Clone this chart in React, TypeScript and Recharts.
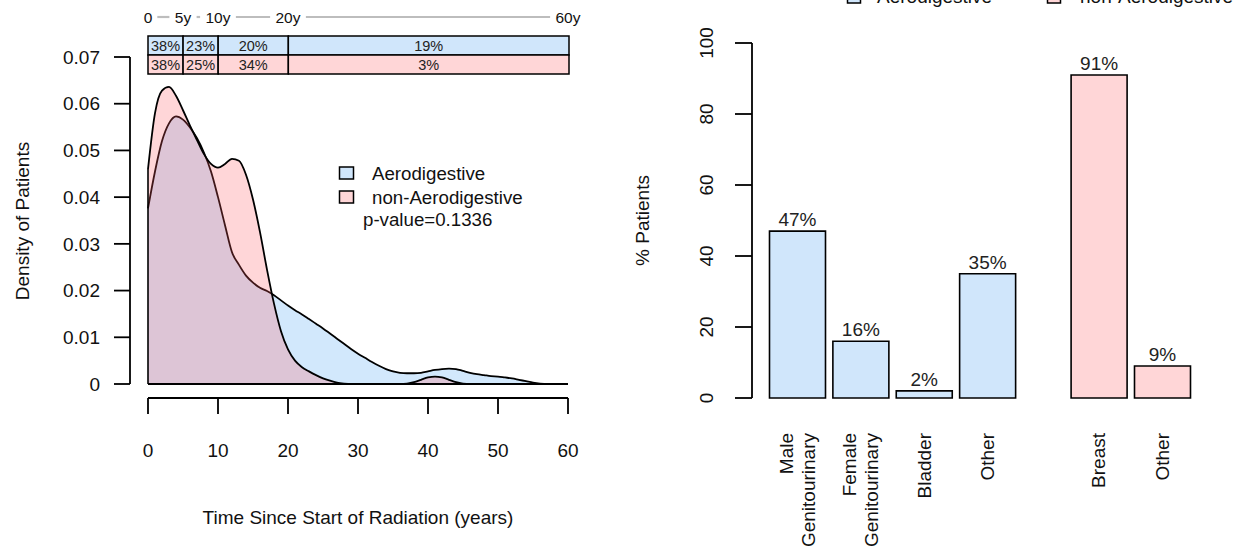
import React from 'react';
import {
  ComposedChart,
  Area,
  XAxis,
  YAxis,
  BarChart,
  Bar,
  Cell,
  LabelList,
  Legend,
  Scatter,
  ReferenceLine,
} from 'recharts';

const FONT = '"Liberation Sans", Arial, Helvetica, sans-serif';
const BLUE_SOLID = '#d0e6fb';
const PINK_SOLID = '#ffd6d7';
const BLUE_BASE = '#4ba3f3';
const PINK_BASE = '#ff5b63';
const INK = '#111';

// ---------- density panel ----------
const years = Array.from({ length: 61 }, (_, i) => i);
const aeroDensity = [
  0.0376, 0.0455, 0.052, 0.0558, 0.0573, 0.0566, 0.0549, 0.0526, 0.0495, 0.0455,
  0.04, 0.034, 0.0282, 0.0255, 0.0232, 0.0217, 0.0206, 0.0199, 0.019, 0.0179,
  0.0168, 0.0158, 0.0149, 0.0139, 0.0129, 0.0119, 0.0108, 0.0097, 0.0086, 0.0075,
  0.0065, 0.0056, 0.0047, 0.0039, 0.0032, 0.0027, 0.0024, 0.0023, 0.0023, 0.0024,
  0.0027, 0.003, 0.0032, 0.0033, 0.0032, 0.0028, 0.0024, 0.0021, 0.0019, 0.0017,
  0.0016, 0.0014, 0.0012, 0.0009, 0.0006, 0.0003, 0.0001, 0, 0, 0, 0,
];
const nonAeroDensity = [
  0.046, 0.058, 0.0628, 0.0636, 0.0617, 0.0586, 0.0553, 0.0522, 0.0492, 0.0471,
  0.0463, 0.0471, 0.0482, 0.0478, 0.0448, 0.0395, 0.0325, 0.0245, 0.0172, 0.0113,
  0.0074, 0.005, 0.0036, 0.0027, 0.0019, 0.0012, 0.0007, 0.0003, 0.0001, 0,
  0, 0, 0, 0, 0, 0, 0, 0.0001, 0.0004, 0.0009,
  0.0014, 0.0016, 0.0014, 0.0009, 0.0004, 0.0001, 0, 0, 0, 0,
  0, 0, 0, 0, 0, 0, 0, 0, 0, 0, 0,
];
const densityTicks = [0, 0.01, 0.02, 0.03, 0.04, 0.05, 0.06, 0.07];
const timeTicks = [0, 10, 20, 30, 40, 50, 60];
const densityData = years.map((t, i) => ({ t, aero: aeroDensity[i], non: nonAeroDensity[i] }));

// ---------- interval table ----------
const breaks = [0, 5, 10, 20, 60];
const breakLabels = ['0', '5y', '10y', '20y', '60y'];
const groups = ['Aerodigestive', 'non-Aerodigestive'];
const aeroShare = [38, 23, 20, 19];
const nonAeroShare = [38, 25, 34, 3];
const rowColors = [BLUE_SOLID, PINK_SOLID];
const tableRows = [aeroShare, nonAeroShare].map((shares, r) => {
  const row: Record<string, any> = { group: groups[r] };
  shares.forEach((s, i) => {
    row[`w${i}`] = breaks[i + 1] - breaks[i];
    row[`l${i}`] = `${s}%`;
  });
  return row;
});
const stripPoints = breaks.map((b, i) => ({ x: b, y: 0.5, lab: breakLabels[i] }));

// ---------- bar panel ----------
const aeroCats = ['Male\nGenitourinary', 'Female\nGenitourinary', 'Bladder', 'Other'];
const aeroPct = [47, 16, 2, 35];
const nonAeroCats = ['Breast', 'Other'];
const nonAeroPct = [91, 9];
const pctTicks = [0, 20, 40, 60, 80, 100];
const aeroBars = aeroCats.map((cat, i) => ({ cat, pct: aeroPct[i] }));
const nonAeroBars = nonAeroCats.map((cat, i) => ({ cat, pct: nonAeroPct[i] }));

const axisStroke = { stroke: '#000', strokeWidth: 1.8 };

// R-style axis offsets (axis drawn outside the data region)
const Y_AXIS_SHIFT = 18;
const X_AXIS_SHIFT = 14;

const CatTick = (props: any) => {
  const { x, y, payload } = props;
  const lines = String(payload.value).split('\n');
  const n = lines.length;
  return (
    <g>
      {lines.map((ln, i) => {
        const px = x + (i - (n - 1) / 2) * 22;
        const py = y + 35;
        return (
          <text
            key={i}
            x={px}
            y={py}
            transform={`rotate(-90 ${px} ${py})`}
            textAnchor="end"
            dy="0.35em"
            fontSize={19}
            fill={INK}
            fontFamily={FONT}
          >
            {ln}
          </text>
        );
      })}
    </g>
  );
};

const RotYTick = (props: any) => {
  const { x, y, payload } = props;
  return (
    <text
      x={x}
      y={y}
      transform={`rotate(-90 ${x} ${y})`}
      textAnchor="middle"
      dy="0.35em"
      fontSize={19}
      fill={INK}
      fontFamily={FONT}
    >
      {payload.value}
    </text>
  );
};

const StripLabel = (props: any) => {
  const { cx, cy, payload } = props;
  return (
    <text x={cx} y={cy} textAnchor="middle" dy="0.35em" fontSize={15.5} fill={INK} fontFamily={FONT}>
      {payload.lab}
    </text>
  );
};

const halfW = (s: string) => s.length * 4.3;

const gapShape = (i: number) => (p: any) => (
  <line
    x1={p.x1 + halfW(breakLabels[i]) + 5}
    y1={p.y1 - 1}
    x2={p.x2 - halfW(breakLabels[i + 1]) - 5}
    y2={p.y2 - 1}
    stroke="#bdbdbd"
    strokeWidth={2.2}
  />
);

const DensityLegend = () => (
  <svg width={260} height={72} style={{ overflow: 'visible' }}>
    <rect x={0.5} y={7} width={14} height={12} fill={BLUE_SOLID} stroke="#000" strokeWidth={1.5} />
    <rect x={0.5} y={31} width={14} height={12} fill={PINK_SOLID} stroke="#000" strokeWidth={1.5} />
    <text x={33} y={13} dy="0.35em" fontSize={18.7} fill={INK} fontFamily={FONT}>Aerodigestive</text>
    <text x={33} y={37} dy="0.35em" fontSize={18.7} fill={INK} fontFamily={FONT}>non-Aerodigestive</text>
    <text x={24} y={59} dy="0.35em" fontSize={18.7} fill={INK} fontFamily={FONT}>p-value=0.1336</text>
  </svg>
);

const TopLegend = () => (
  <svg width={420} height={20} style={{ overflow: 'visible' }}>
    <rect x={0.5} y={6} width={13} height={13} fill={BLUE_SOLID} stroke="#000" strokeWidth={1.5} />
    <text x={30} y={19} fontSize={19} fill={INK} fontFamily={FONT}>{groups[0]}</text>
    <rect x={200.5} y={6} width={13} height={13} fill={PINK_SOLID} stroke="#000" strokeWidth={1.5} />
    <text x={233} y={19} fontSize={19} fill={INK} fontFamily={FONT}>{groups[1]}</text>
  </svg>
);

export default function App() {
  return (
    <div
      style={{
        position: 'absolute',
        left: 0,
        top: 0,
        width: 1249,
        height: 550,
        overflow: 'hidden',
        background: '#fff',
        fontFamily: FONT,
      }}
    >
      {/* density panel */}
      <div style={{ position: 'absolute', left: 0, top: 0 }}>
        <ComposedChart width={600} height={550} data={densityData} margin={{ top: 44, right: 14, bottom: 32, left: 0 }}>
          <XAxis
            dataKey="t"
            type="number"
            domain={[0, 60]}
            ticks={timeTicks}
            padding={{ left: Y_AXIS_SHIFT, right: Y_AXIS_SHIFT }}
            height={120}
            tickSize={16}
            tickMargin={30}
            axisLine={false}
            tickLine={axisStroke}
            tick={{ fill: INK, fontSize: 19, fontFamily: FONT }}
            label={(p: any) => {
              const vb = p.viewBox;
              return (
                <text x={vb.x + vb.width / 2} y={vb.y + 119} textAnchor="middle" dy="0.35em" fontSize={19} fill={INK} fontFamily={FONT}>
                  Time Since Start of Radiation (years)
                </text>
              );
            }}
          />
          <YAxis
            type="number"
            domain={[0, 0.07]}
            ticks={densityTicks}
            width={130}
            padding={{ top: 13, bottom: X_AXIS_SHIFT }}
            tickSize={16}
            tickMargin={14}
            axisLine={false}
            tickLine={axisStroke}
            tick={{ fill: INK, fontSize: 19, fontFamily: FONT }}
            tickFormatter={(v: number) => (v === 0 ? '0' : v.toFixed(2))}
            label={(p: any) => {
              const vb = p.viewBox;
              const x = vb.x + 22;
              const y = vb.y + vb.height / 2;
              return (
                <text x={x} y={y} transform={`rotate(-90 ${x} ${y})`} textAnchor="middle" dy="0.35em" fontSize={19} fill={INK} fontFamily={FONT}>
                  Density of Patients
                </text>
              );
            }}
          />
          <Area
            dataKey="aero"
            name={groups[0]}
            type="monotone"
            fill={BLUE_BASE}
            fillOpacity={0.25}
            stroke="#000"
            strokeWidth={1.8}
            isAnimationActive={false}
            dot={false}
            activeDot={false}
          />
          <Area
            dataKey="non"
            name={groups[1]}
            type="monotone"
            fill={PINK_BASE}
            fillOpacity={0.25}
            stroke="#000"
            strokeWidth={1.8}
            isAnimationActive={false}
            dot={false}
            activeDot={false}
          />
          {/* polygon base and left edge */}
          <ReferenceLine segment={[{ x: 0, y: 0 }, { x: 60, y: 0 }]} stroke="#000" strokeWidth={2} />
          <ReferenceLine segment={[{ x: 0, y: 0 }, { x: 0, y: nonAeroDensity[0] }]} stroke="#000" strokeWidth={1.6} />
          {/* R-style axis lines spanning the tick range */}
          <ReferenceLine
            segment={[{ x: 0, y: 0 }, { x: 0, y: 0.07 }]}
            shape={(p: any) => (
              <line x1={p.x1 - Y_AXIS_SHIFT} y1={p.y1} x2={p.x2 - Y_AXIS_SHIFT} y2={p.y2} stroke="#000" strokeWidth={1.8} />
            )}
          />
          <ReferenceLine
            segment={[{ x: 0, y: 0 }, { x: 60, y: 0 }]}
            shape={(p: any) => (
              <line x1={p.x1} y1={p.y1 + X_AXIS_SHIFT} x2={p.x2} y2={p.y2 + X_AXIS_SHIFT} stroke="#000" strokeWidth={1.8} />
            )}
          />
          <Legend
            layout="vertical"
            align="center"
            verticalAlign="middle"
            wrapperStyle={{ left: 339, top: 160, width: 260, height: 72 }}
            content={() => <DensityLegend />}
          />
        </ComposedChart>
      </div>

      {/* interval labels strip */}
      <div style={{ position: 'absolute', left: 0, top: 0 }}>
        <ComposedChart width={600} height={36} margin={{ top: 0, right: 32, bottom: 0, left: 148 }}>
          <XAxis type="number" dataKey="x" domain={[0, 60]} hide />
          <YAxis type="number" dataKey="y" domain={[0, 1]} hide />
          {breaks.slice(0, -1).map((b, i) => (
            <ReferenceLine
              key={i}
              segment={[{ x: b, y: 0.5 }, { x: breaks[i + 1], y: 0.5 }]}
              shape={gapShape(i)}
            />
          ))}
          <Scatter data={stripPoints} dataKey="y" shape={<StripLabel />} isAnimationActive={false} />
        </ComposedChart>
      </div>

      {/* interval table */}
      <div style={{ position: 'absolute', left: 0, top: 0 }}>
        <BarChart
          layout="vertical"
          width={600}
          height={80}
          data={tableRows}
          margin={{ top: 36, right: 31, bottom: 6, left: 148 }}
          barCategoryGap={0}
        >
          <XAxis type="number" domain={[0, 60]} hide />
          <YAxis type="category" dataKey="group" hide />
          {breaks.slice(0, -1).map((_, i) => (
            <Bar key={i} dataKey={`w${i}`} stackId="s" stroke="#000" strokeWidth={1.5} isAnimationActive={false}>
              {tableRows.map((_r, j) => (
                <Cell key={j} fill={rowColors[j]} />
              ))}
              <LabelList dataKey={`l${i}`} position="center" fontSize={14.5} fill="#222" fontFamily={FONT} />
            </Bar>
          ))}
        </BarChart>
      </div>

      {/* bars: aerodigestive */}
      <div style={{ position: 'absolute', left: 620, top: 0 }}>
        <BarChart width={400} height={550} data={aeroBars} margin={{ top: 43, right: 1, bottom: 2, left: 0 }} barSize={56}>
          <XAxis
            dataKey="cat"
            type="category"
            height={150}
            padding={{ left: 13.5, right: 0 }}
            axisLine={false}
            tickLine={false}
            tickSize={0}
            tickMargin={0}
            interval={0}
            tick={<CatTick />}
          />
          <YAxis
            type="number"
            domain={[0, 100]}
            ticks={pctTicks}
            width={132}
            tickSize={17}
            tickMargin={29}
            axisLine={axisStroke}
            tickLine={axisStroke}
            tick={<RotYTick />}
            label={(p: any) => {
              const vb = p.viewBox;
              const x = vb.x + 22;
              const y = vb.y + vb.height / 2;
              return (
                <text x={x} y={y} transform={`rotate(-90 ${x} ${y})`} textAnchor="middle" dy="0.35em" fontSize={19} fill={INK} fontFamily={FONT}>
                  % Patients
                </text>
              );
            }}
          />
          <Bar dataKey="pct" fill={BLUE_SOLID} stroke="#000" strokeWidth={1.6} isAnimationActive={false}>
            <LabelList dataKey="pct" position="top" offset={5} formatter={(v: any) => `${v}%`} fontSize={19} fill="#222" fontFamily={FONT} />
          </Bar>
          <Legend
            layout="vertical"
            align="center"
            verticalAlign="middle"
            wrapperStyle={{ left: 227, top: -16, width: 420, height: 20 }}
            content={() => <TopLegend />}
          />
        </BarChart>
      </div>

      {/* bars: non-aerodigestive */}
      <div style={{ position: 'absolute', left: 1040, top: 0 }}>
        <BarChart width={160} height={550} data={nonAeroBars} margin={{ top: 43, right: 6.1, bottom: 2, left: 27.1 }} barSize={56}>
          <XAxis
            dataKey="cat"
            type="category"
            height={150}
            axisLine={false}
            tickLine={false}
            tickSize={0}
            tickMargin={0}
            interval={0}
            tick={<CatTick />}
          />
          <YAxis type="number" domain={[0, 100]} hide />
          <Bar dataKey="pct" fill={PINK_SOLID} stroke="#000" strokeWidth={1.6} isAnimationActive={false}>
            <LabelList dataKey="pct" position="top" offset={5} formatter={(v: any) => `${v}%`} fontSize={19} fill="#222" fontFamily={FONT} />
          </Bar>
        </BarChart>
      </div>
    </div>
  );
}
